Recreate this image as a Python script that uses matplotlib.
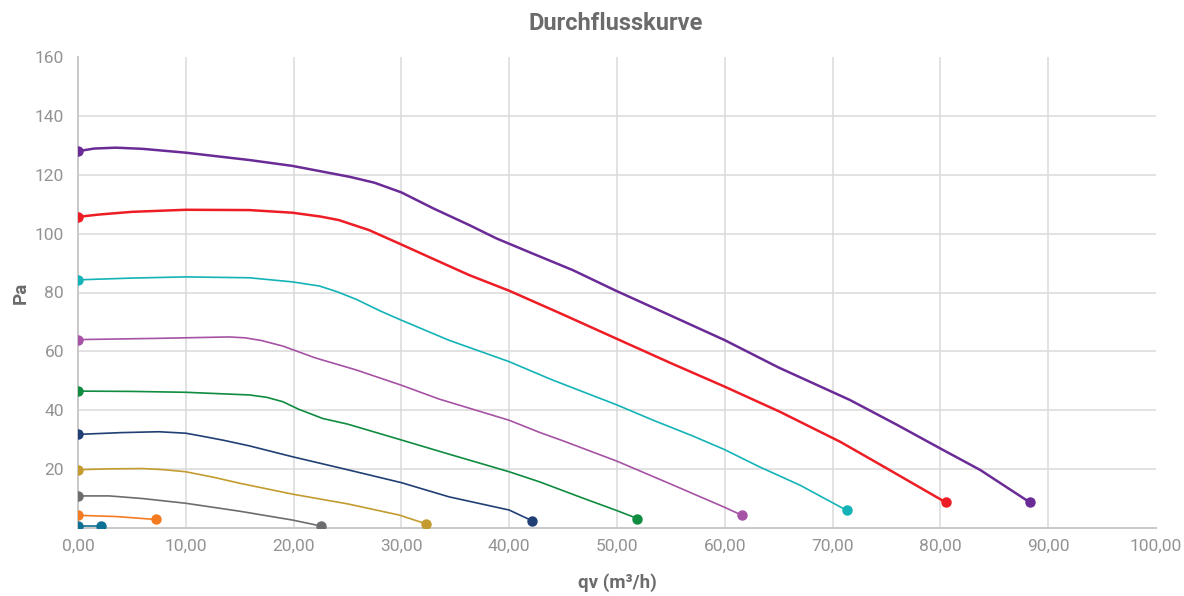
import matplotlib
matplotlib.use('Agg')
import matplotlib.pyplot as plt
from matplotlib.ticker import FuncFormatter

# Durchflusskurve: pressure (Pa) vs flow qv (m3/h), one curve per fan stage
stage_x = [
    [0, 1.5, 3.5, 6, 10, 15.9, 19.9, 25.2, 27.5, 30, 33, 36.3, 38.8, 42, 45.9, 49.9, 54.9, 60, 65, 71.6, 76, 80, 83.7, 88.3],
    [0, 2, 5, 10, 15.9, 19.9, 22.5, 24.2, 27, 30, 33.2, 36.3, 40, 45, 49.9, 55, 60, 65.1, 70.7, 75, 80.5],
    [0, 5, 10, 15.9, 19.9, 22.4, 24, 25.8, 28, 29.8, 32, 34.4, 40, 44, 50, 53.3, 57, 60, 63.2, 67, 71.3],
    [0, 7, 14, 15.5, 17, 19, 22, 25.8, 30, 33.5, 40, 42.8, 45, 50, 55, 60, 61.6],
    [0, 5, 10, 15.9, 17.5, 19, 20.5, 21.5, 22.7, 25, 30, 34.4, 40, 42.8, 46.8, 50, 51.9],
    [0, 4, 7.5, 10, 11.5, 13.5, 15.9, 19.9, 25, 30, 34.4, 40, 42.1],
    [0, 3, 6, 8, 10, 12.5, 15, 19.9, 25, 29.8, 32.3],
    [0, 2.9, 6, 10, 15, 19.9, 22.5],
    [0, 3.5, 7.2],
    [0, 2.1],
]
stage_y = [
    [128, 128.9, 129.2, 128.8, 127.5, 125, 123, 119.3, 117.3, 114, 108.5, 102.9, 98.4, 93.5, 87.6, 80.6, 72.3, 63.8, 54.5, 43.5, 35, 27, 19.7, 8.7],
    [105.7, 106.5, 107.4, 108.1, 108, 107.1, 105.8, 104.6, 101.2, 96.3, 91, 85.9, 80.6, 72.5, 64.4, 56, 48, 39.5, 29.3, 20.3, 8.7],
    [84.3, 84.9, 85.3, 85, 83.6, 82.2, 80.3, 77.7, 73.8, 70.9, 67.5, 63.8, 56.5, 50.3, 41.8, 36.7, 31.3, 26.6, 20.8, 14.5, 6.0],
    [64.0, 64.4, 64.9, 64.6, 63.7, 61.8, 57.8, 53.7, 48.5, 43.8, 36.6, 32.5, 29.6, 22.7, 14.9, 7.0, 4.3],
    [46.5, 46.4, 46.1, 45.2, 44.4, 42.9, 40.3, 38.9, 37.2, 35.3, 29.9, 25.1, 19.1, 15.7, 10.2, 5.9, 3.2],
    [31.8, 32.4, 32.7, 32.2, 31.2, 29.8, 27.9, 24.2, 19.8, 15.4, 10.6, 6.1, 2.5],
    [19.8, 20.1, 20.2, 19.8, 19.1, 17.3, 15.2, 11.5, 8.2, 4.4, 1.4],
    [10.9, 10.9, 10.0, 8.4, 5.7, 2.7, 0.7],
    [4.3, 3.9, 2.9],
    [0.7, 0.7],
]
stage_colors = ['#6a2b96', '#ee1d25', '#13b3b7', '#a653a5', '#0f8c3f',
                '#213f74', '#c39b2f', '#6d6d71', '#f47b21', '#0e7093']
stage_widths = [1.8, 1.8, 1.2, 1.2, 1.2, 1.2, 1.2, 1.2, 1.2, 1.2]

x_ticks = [0, 10, 20, 30, 40, 50, 60, 70, 80, 90, 100]
y_ticks = [20, 40, 60, 80, 100, 120, 140, 160]

plt.rcParams['font.family'] = ['Roboto', 'DejaVu Sans']

fig = plt.figure(figsize=(11.84, 5.96), dpi=100)
ax = fig.add_axes([78 / 1184, 1 - 528 / 596, (1156 - 78) / 1184, (528 - 57) / 596])

for xs, ys, c, lw in zip(stage_x, stage_y, stage_colors, stage_widths):
    ax.plot(xs, ys, color=c, lw=lw, solid_capstyle='round', solid_joinstyle='round', zorder=3)
    ax.plot([xs[0], xs[-1]], [ys[0], ys[-1]], 'o', color=c, ms=6.5, zorder=4)

ax.set_xlim(0, 100)
ax.set_ylim(0, 160)
ax.set_xticks(x_ticks)
ax.set_yticks(y_ticks)
ax.xaxis.set_major_formatter(FuncFormatter(lambda v, p: f'{v:.2f}'.replace('.', ',')))

# grid: vertical lines 10..90, horizontal 20..140
for v in x_ticks[1:-1]:
    ax.axvline(v, color='#dadada', lw=1.1, zorder=1)
for v in y_ticks[:-1]:
    ax.axhline(v, color='#dadada', lw=1.1, zorder=1)

for s in ['top', 'right']:
    ax.spines[s].set_visible(False)
ax.spines['left'].set_color('#c8c8c8')
ax.spines['left'].set_linewidth(1.4)
ax.spines['bottom'].set_color('#c8c8c8')
ax.spines['bottom'].set_linewidth(1.4)
ax.tick_params(length=0, labelsize=12.5, labelcolor='#939393', pad=8)
ax.tick_params(axis='y', pad=10)

ax.set_xlabel('qv (m³/h)', fontsize=13.5, fontweight='bold', color='#6b6b6b', labelpad=14)
ax.set_ylabel('Pa', fontsize=13.5, fontweight='bold', color='#6b6b6b', labelpad=4)
fig.text(616 / 1184, 1 - 24 / 596, 'Durchflusskurve', ha='center', va='center',
         fontsize=17, fontweight='bold', color='#6b6b6b')

fig.savefig('out.png', dpi=100)
